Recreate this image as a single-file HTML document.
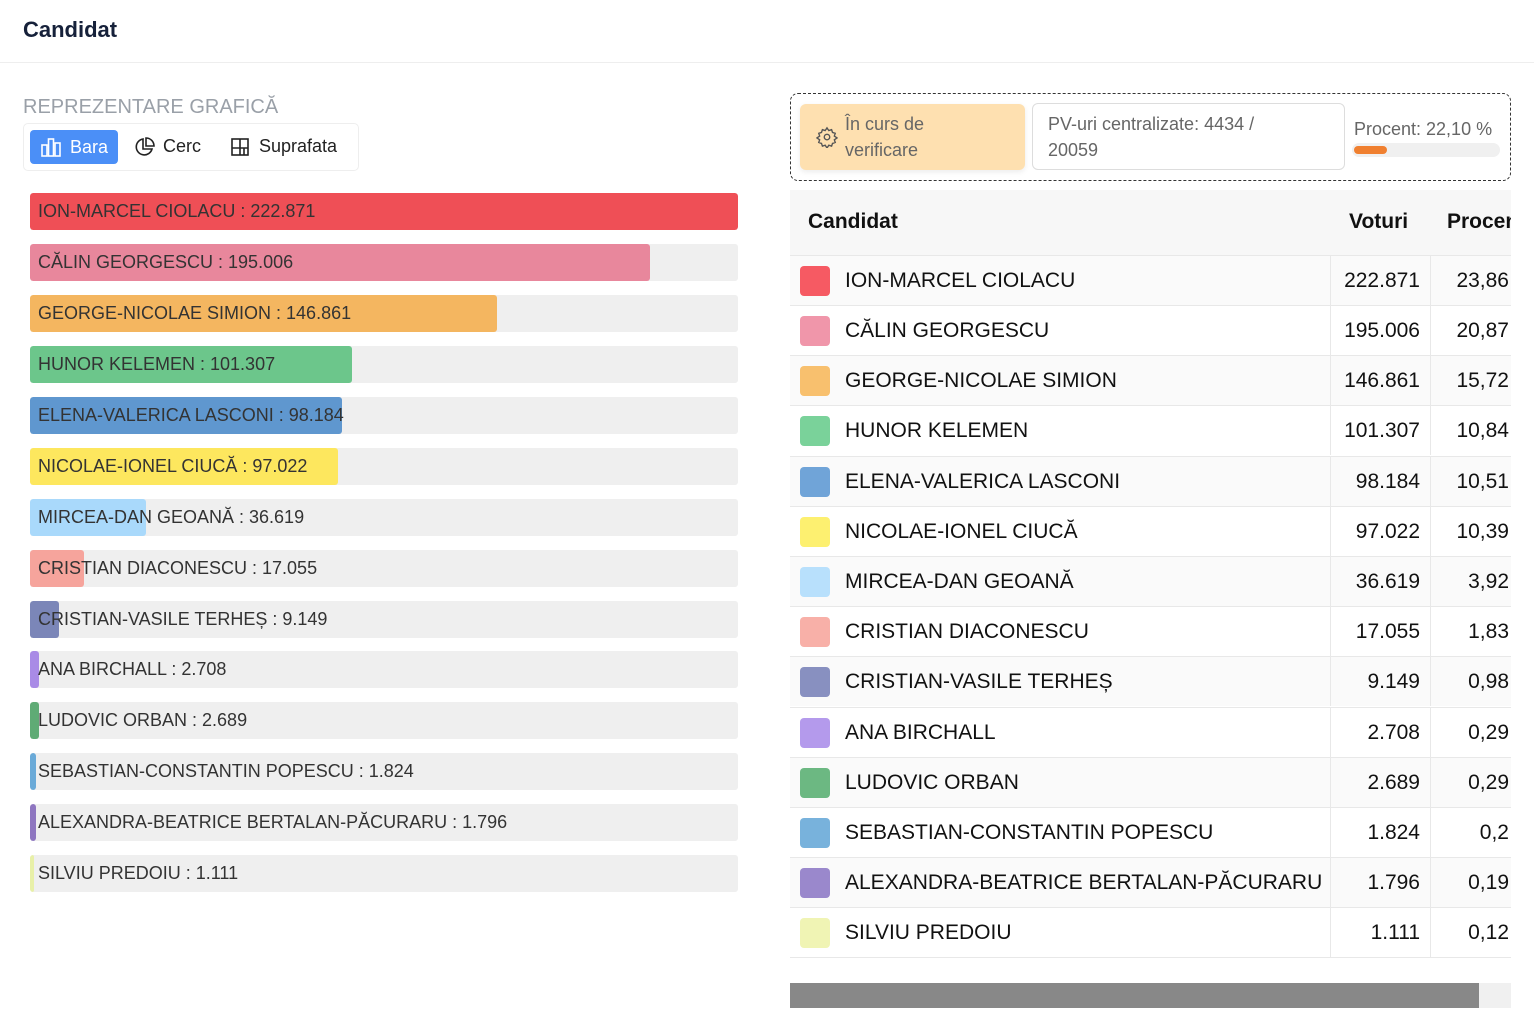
<!DOCTYPE html>
<html><head><meta charset="utf-8"><style>
*{box-sizing:border-box;margin:0;padding:0}
body{width:1534px;height:1020px;background:#fff;font-family:"Liberation Sans",sans-serif;position:relative;overflow:hidden;color:#222}
.a{position:absolute}
.bar{position:absolute;left:30px;width:708px;height:37px;background:#efefef;border-radius:3px;overflow:hidden}
.bar .f{position:absolute;left:0;top:0;bottom:0;border-radius:3px}
.bar span{position:absolute;left:8px;top:0;line-height:37px;font-size:18px;color:#333;white-space:nowrap}
.row{position:absolute;left:790px;width:721px;height:50px;border-top:1px solid #e8e8e8;overflow:hidden}
.row .sw{position:absolute;left:10px;top:10px;width:30px;height:30px;border-radius:4px}
.row .n{position:absolute;left:55px;top:0;line-height:50px;font-size:21px;color:#111;white-space:nowrap}
.row .v{position:absolute;left:540px;width:90px;text-align:right;line-height:50px;font-size:21px;color:#111}
.row .p{position:absolute;left:640px;width:79px;text-align:right;line-height:50px;font-size:21px;color:#111}
.row .c1{position:absolute;left:540px;top:0;bottom:0;border-left:1px solid #e8e8e8}
.row .c2{position:absolute;left:640px;top:0;bottom:0;border-left:1px solid #e8e8e8}
</style></head><body>
<div class="a" style="left:23px;top:17px;font-size:22px;font-weight:bold;color:#16213a">Candidat</div>
<div class="a" style="left:0;top:62px;width:1534px;border-top:1px solid #eee"></div>
<div class="a" style="left:23px;top:96px;font-size:20px;color:#9aa0a8">REPREZENTARE GRAFICĂ</div>
<div class="a" style="left:23px;top:123px;width:336px;height:48px;border:1px solid #eee;border-radius:5px"></div>
<div class="a" style="left:30px;top:130px;width:88px;height:34px;background:#4b8ff7;border-radius:4px;color:#fff;font-size:18px;line-height:34px;padding-left:40px">Bara</div>
<svg class="a" style="left:40px;top:136px" width="22" height="22" viewBox="0 0 22 22" fill="none" stroke="#fff" stroke-width="1.6"><rect x="2" y="9" width="5" height="11"/><rect x="8.5" y="3" width="5" height="17"/><rect x="15" y="7" width="5" height="13"/></svg>
<svg class="a" style="left:134px;top:136px" width="22" height="22" viewBox="0 0 22 22" fill="none" stroke="#222" stroke-width="1.6"><path d="M9 3a8 8 0 1 0 9 10H9z"/><path d="M12 2v8h8a8 8 0 0 0-8-8z"/></svg>
<div class="a" style="left:163px;top:136px;font-size:18px;color:#222">Cerc</div>
<svg class="a" style="left:230px;top:137px" width="20" height="20" viewBox="0 0 20 20" fill="none" stroke="#222" stroke-width="1.6"><rect x="2" y="2" width="16" height="16"/><path d="M2 11h16M10 2v16M14 11v7"/></svg>
<div class="a" style="left:259px;top:136px;font-size:18px;color:#222">Suprafata</div>

<div class="bar" style="top:193px"><div class="f" style="width:708px;background:#ef4f56"></div><span>ION-MARCEL CIOLACU : 222.871</span></div>
<div class="bar" style="top:244px"><div class="f" style="width:620px;background:#e8879c"></div><span>CĂLIN GEORGESCU : 195.006</span></div>
<div class="bar" style="top:295px"><div class="f" style="width:467px;background:#f4b660"></div><span>GEORGE-NICOLAE SIMION : 146.861</span></div>
<div class="bar" style="top:346px"><div class="f" style="width:322px;background:#6cc68b"></div><span>HUNOR KELEMEN : 101.307</span></div>
<div class="bar" style="top:397px"><div class="f" style="width:312px;background:#5f97cf"></div><span>ELENA-VALERICA LASCONI : 98.184</span></div>
<div class="bar" style="top:448px"><div class="f" style="width:308px;background:#fde75e"></div><span>NICOLAE-IONEL CIUCĂ : 97.022</span></div>
<div class="bar" style="top:499px"><div class="f" style="width:116px;background:#a9d9fb"></div><span>MIRCEA-DAN GEOANĂ : 36.619</span></div>
<div class="bar" style="top:550px"><div class="f" style="width:54px;background:#f6a49c"></div><span>CRISTIAN DIACONESCU : 17.055</span></div>
<div class="bar" style="top:601px"><div class="f" style="width:29px;background:#7b86b8"></div><span>CRISTIAN-VASILE TERHEȘ : 9.149</span></div>
<div class="bar" style="top:651px"><div class="f" style="width:9px;background:#a98be6"></div><span>ANA BIRCHALL : 2.708</span></div>
<div class="bar" style="top:702px"><div class="f" style="width:9px;background:#5fab75"></div><span>LUDOVIC ORBAN : 2.689</span></div>
<div class="bar" style="top:753px"><div class="f" style="width:6px;background:#6aaad8"></div><span>SEBASTIAN-CONSTANTIN POPESCU : 1.824</span></div>
<div class="bar" style="top:804px"><div class="f" style="width:6px;background:#8e76c0"></div><span>ALEXANDRA-BEATRICE BERTALAN-PĂCURARU : 1.796</span></div>
<div class="bar" style="top:855px"><div class="f" style="width:4px;background:#e8f0a8"></div><span>SILVIU PREDOIU : 1.111</span></div>

<div class="a" style="left:790px;top:93px;width:721px;height:88px;border:1px dashed #333;border-radius:8px"></div>
<div class="a" style="left:800px;top:104px;width:225px;height:66px;background:#fee0b0;border-radius:6px;box-shadow:0 2px 6px rgba(0,0,0,.08)"></div>
<svg class="a" style="left:816px;top:126px" width="22" height="22" viewBox="0 0 24 24" fill="none" stroke="#555" stroke-width="1.5"><circle cx="12" cy="12" r="3"/><path d="M12 2l2 3 3-1 1 3 3 1-1 3 3 2-3 2 1 3-3 1-1 3-3-1-2 3-2-3-3 1-1-3-3-1 1-3-3-2 3-2-1-3 3-1 1-3 3 1z"/></svg>
<div class="a" style="left:845px;top:111px;font-size:18px;line-height:26px;color:#666">În curs de<br>verificare</div>
<div class="a" style="left:1032px;top:103px;width:313px;height:67px;border:1px solid #ddd;border-radius:6px"></div>
<div class="a" style="left:1048px;top:111px;font-size:18px;line-height:26px;color:#666">PV-uri centralizate: 4434 /<br>20059</div>
<div class="a" style="left:1354px;top:119px;font-size:18px;color:#666">Procent: 22,10 %</div>
<div class="a" style="left:1352px;top:143px;width:148px;height:14px;background:#f0f0f0;border-radius:7px"></div>
<div class="a" style="left:1354px;top:146px;width:33px;height:8px;background:#f08030;border-radius:4px"></div>

<div class="a" style="left:790px;top:190px;width:721px;height:65px;background:#f7f7f7;overflow:hidden">
<div class="a" style="left:18px;top:20px;font-size:21px;font-weight:bold;color:#111">Candidat</div>
<div class="a" style="left:559px;top:20px;font-size:21px;font-weight:bold;color:#111">Voturi</div>
<div class="a" style="left:657px;top:20px;font-size:21px;font-weight:bold;color:#111;white-space:nowrap">Procent</div>
</div>
<div class="row" style="top:255px;background:#fafafa"><div class="c1"></div><div class="c2"></div><div class="sw" style="background:#f65a63"></div><div class="n">ION-MARCEL CIOLACU</div><div class="v">222.871</div><div class="p">23,86</div></div>
<div class="row" style="top:305px"><div class="c1"></div><div class="c2"></div><div class="sw" style="background:#f096aa"></div><div class="n">CĂLIN GEORGESCU</div><div class="v">195.006</div><div class="p">20,87</div></div>
<div class="row" style="top:355px;background:#fafafa"><div class="c1"></div><div class="c2"></div><div class="sw" style="background:#f8c06e"></div><div class="n">GEORGE-NICOLAE SIMION</div><div class="v">146.861</div><div class="p">15,72</div></div>
<div class="row" style="top:405px"><div class="c1"></div><div class="c2"></div><div class="sw" style="background:#7ad29a"></div><div class="n">HUNOR KELEMEN</div><div class="v">101.307</div><div class="p">10,84</div></div>
<div class="row" style="top:456px;background:#fafafa"><div class="c1"></div><div class="c2"></div><div class="sw" style="background:#70a4d8"></div><div class="n">ELENA-VALERICA LASCONI</div><div class="v">98.184</div><div class="p">10,51</div></div>
<div class="row" style="top:506px"><div class="c1"></div><div class="c2"></div><div class="sw" style="background:#fdf070"></div><div class="n">NICOLAE-IONEL CIUCĂ</div><div class="v">97.022</div><div class="p">10,39</div></div>
<div class="row" style="top:556px;background:#fafafa"><div class="c1"></div><div class="c2"></div><div class="sw" style="background:#b8e0fc"></div><div class="n">MIRCEA-DAN GEOANĂ</div><div class="v">36.619</div><div class="p">3,92</div></div>
<div class="row" style="top:606px"><div class="c1"></div><div class="c2"></div><div class="sw" style="background:#f8b0a8"></div><div class="n">CRISTIAN DIACONESCU</div><div class="v">17.055</div><div class="p">1,83</div></div>
<div class="row" style="top:656px;background:#fafafa"><div class="c1"></div><div class="c2"></div><div class="sw" style="background:#8890c0"></div><div class="n">CRISTIAN-VASILE TERHEȘ</div><div class="v">9.149</div><div class="p">0,98</div></div>
<div class="row" style="top:707px"><div class="c1"></div><div class="c2"></div><div class="sw" style="background:#b49aec"></div><div class="n">ANA BIRCHALL</div><div class="v">2.708</div><div class="p">0,29</div></div>
<div class="row" style="top:757px;background:#fafafa"><div class="c1"></div><div class="c2"></div><div class="sw" style="background:#6cb882"></div><div class="n">LUDOVIC ORBAN</div><div class="v">2.689</div><div class="p">0,29</div></div>
<div class="row" style="top:807px"><div class="c1"></div><div class="c2"></div><div class="sw" style="background:#78b2dc"></div><div class="n">SEBASTIAN-CONSTANTIN POPESCU</div><div class="v">1.824</div><div class="p">0,2</div></div>
<div class="row" style="top:857px;background:#fafafa"><div class="c1"></div><div class="c2"></div><div class="sw" style="background:#9a88cc"></div><div class="n">ALEXANDRA-BEATRICE BERTALAN-PĂCURARU</div><div class="v">1.796</div><div class="p">0,19</div></div>
<div class="row" style="top:907px;height:51px;border-bottom:1px solid #e8e8e8"><div class="c1"></div><div class="c2"></div><div class="sw" style="background:#f0f4b4"></div><div class="n">SILVIU PREDOIU</div><div class="v">1.111</div><div class="p">0,12</div></div>

<div class="a" style="left:790px;top:983px;width:721px;height:25px;background:#f0f0f0"></div>
<div class="a" style="left:790px;top:983px;width:689px;height:25px;background:#888"></div>
</body></html>
